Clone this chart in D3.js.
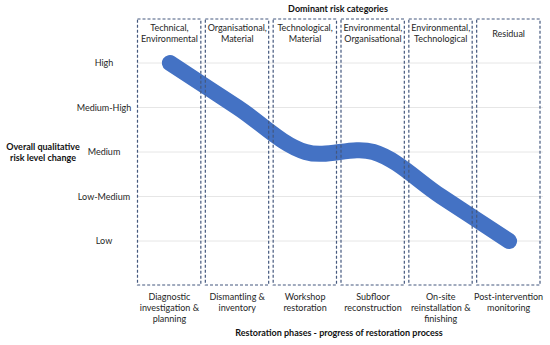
<!DOCTYPE html>
<html>
<head>
<meta charset="utf-8">
<script src="https://cdnjs.cloudflare.com/ajax/libs/d3/7.8.5/d3.min.js"></script>
<style>
  body { margin: 0; background: #fff; }
  text { font-family: Lato, 'Liberation Sans', Arial, sans-serif; fill: #262626; font-size: 9px; }
</style>
</head>
<body>
<div id="chart"></div>
<script>
  // phases along the x axis
  var phases = [
    ['Diagnostic', 'investigation &', 'planning'],
    ['Dismantling &', 'inventory'],
    ['Workshop', 'restoration'],
    ['Subfloor', 'reconstruction'],
    ['On-site', 'reinstallation &', 'finishing'],
    ['Post-intervention', 'monitoring']
  ];
  var riskCats = [
    ['Technical,', 'Environmental'],
    ['Organisational,', 'Material'],
    ['Technological,', 'Material'],
    ['Environmental,', 'Organisational'],
    ['Environmental,', 'Technological'],
    ['Residual']
  ];
  var levels = ['Low', 'Low-Medium', 'Medium', 'Medium-High', 'High'];
  var riskValues = [5, 4, 3, 3, 2, 1];

  var width = 550, height = 345;
  var svg = d3.select('#chart').append('svg')
    .attr('width', width)
    .attr('height', height);

  var x = d3.scaleBand()
    .domain(d3.range(phases.length))
    .range([137, 544]);
  var y = d3.scaleLinear()
    .domain([1, 5])
    .range([241, 63]);

  // gridlines
  svg.append('g').selectAll('line')
    .data(d3.range(1, 6))
    .enter().append('line')
    .attr('x1', 137).attr('x2', 543)
    .attr('y1', function(d){ return y(d); })
    .attr('y2', function(d){ return y(d); })
    .attr('stroke', '#e6e6e6')
    .attr('stroke-width', 1);

  // y tick labels
  svg.append('g').selectAll('text')
    .data(levels)
    .enter().append('text')
    .attr('x', 104)
    .attr('y', function(d, i){ return y(i + 1) + 3.3; })
    .attr('text-anchor', 'middle')
    .text(function(d){ return d; });

  // the risk line
  var line = d3.line()
    .x(function(d, i){ return x(i) + x.bandwidth() / 2 - 1; })
    .y(function(d){ return y(d); })
    .curve(d3.curveCatmullRom.alpha(0.5));

  svg.append('path')
    .datum(riskValues)
    .attr('d', line)
    .attr('fill', 'none')
    .attr('stroke', '#4472c4')
    .attr('stroke-width', 16)
    .attr('stroke-linecap', 'round');

  // dashed boxes
  svg.append('g').selectAll('rect')
    .data(phases)
    .enter().append('rect')
    .attr('x', function(d, i){ return x(i) + 0.5; })
    .attr('y', 19)
    .attr('width', x.bandwidth() - 4.5)
    .attr('height', 266)
    .attr('fill', 'none')
    .attr('stroke', '#44587e')
    .attr('stroke-width', 1.2)
    .attr('stroke-dasharray', '3,2');

  // category labels inside boxes
  riskCats.forEach(function(lines, i){
    var cx = x(i) + x.bandwidth() / 2 - 1.5;
    var t = svg.append('text')
      .attr('x', cx)
      .attr('y', lines.length == 1 ? 36.5 : 31)
      .attr('text-anchor', 'middle');
    lines.forEach(function(l, j){
      t.append('tspan').attr('x', cx).attr('dy', j == 0 ? 0 : 11.3).text(l);
    });
  });

  // phase labels below
  phases.forEach(function(lines, i){
    var cx = x(i) + x.bandwidth() / 2 - 1.5;
    var t = svg.append('text')
      .attr('x', cx)
      .attr('y', 300)
      .attr('text-anchor', 'middle');
    lines.forEach(function(l, j){
      t.append('tspan').attr('x', cx).attr('dy', j == 0 ? 0 : 11.2).text(l);
    });
  });

  // titles
  svg.append('text')
    .attr('x', 338).attr('y', 12)
    .attr('text-anchor', 'middle')
    .style('font-weight', 'bold').style('fill', '#111')
    .text('Dominant risk categories');

  svg.append('text')
    .attr('x', 339).attr('y', 336)
    .attr('text-anchor', 'middle')
    .style('font-weight', 'bold').style('fill', '#111')
    .text('Restoration phases - progress of restoration process');

  var yt = svg.append('text')
    .attr('x', 43).attr('y', 150)
    .attr('text-anchor', 'middle')
    .style('font-weight', 'bold').style('fill', '#111');
  yt.append('tspan').attr('x', 43).text('Overall qualitative');
  yt.append('tspan').attr('x', 43).attr('dy', 11).text('risk level change');
</script>
</body>
</html>
